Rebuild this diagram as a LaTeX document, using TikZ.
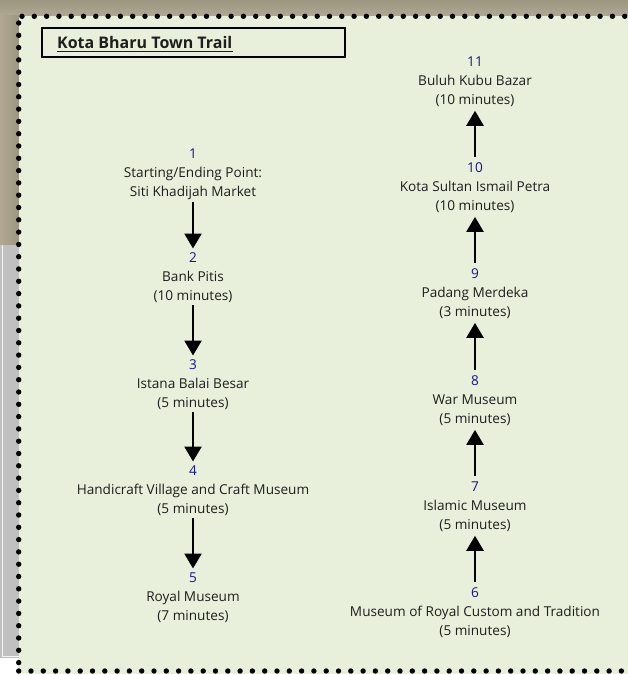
\documentclass[tikz,border=0pt]{standalone}
\usepackage{fontspec}
\setmainfont{Open Sans}
\usetikzlibrary{arrows.meta}
\definecolor{panel}{RGB}{232,240,220}
\definecolor{numblue}{RGB}{22,22,140}
\definecolor{bark}{RGB}{156,149,128}
\definecolor{barklight}{RGB}{176,168,146}
\definecolor{sidegray}{RGB}{192,192,192}
\definecolor{ink}{RGB}{30,30,30}
\newcommand{\num}[1]{{\color{numblue}#1}}
\begin{document}
\begin{tikzpicture}[x=1pt,y=-1pt,
  stop/.style={align=center, inner sep=2pt, anchor=north, text=ink,
    font=\fontsize{13.6}{19}\selectfont},
  walk/.style={line width=2.5pt, shorten >=2pt, -{Triangle[width=17pt,length=15pt]}},
  dots/.style={line width=5.4pt, line cap=round, dash pattern=on 0pt off 12.3pt}]
\useasboundingbox (0,0) rectangle (628,674);

% backdrop around the notice panel
\shade[top color=bark, bottom color=barklight] (0,0) rectangle (628,16);
\shade[left color=barklight, right color=bark] (0,16) rectangle (19,245);
\fill[sidegray] (0,245) rectangle (19,658);
\draw[white!80!sidegray, line width=1pt] (2.5,245) -- (2.5,656.5) -- (19,656.5);
\fill[white] (0,658) rectangle (19,674);

% notice panel with dotted edge
\fill[panel] (19,16) rectangle (628,674);
\draw[dots] (22,16.3) -- (628,16.3);
\draw[dots] (18.7,23) -- (18.7,671);
\draw[dots] (18.7,671) -- (628,671);

% heading
\node[draw, line width=1.8pt, minimum width=303.6pt, minimum height=29pt, inner sep=0]
  (titlebox) at (193.5,42.5) {};
\node[anchor=base west, inner sep=0, text=ink, font=\fontsize{16}{18}\selectfont\bfseries]
  (title) at (57,49) {Kota Bharu Town Trail};
\draw[ink, line width=1.4pt] ([yshift=-2.6pt]title.base west) -- ([yshift=-2.6pt]title.base east);

% outbound column
\node[stop] (s1) at (193,146.5) {\num{1}\\Starting/Ending Point:\\Siti Khadijah Market};
\node[stop] (s2) at (193,250.5) {\num{2}\\Bank Pitis\\(10 minutes)};
\node[stop] (s3) at (193,357.5) {\num{3}\\Istana Balai Besar\\(5 minutes)};
\node[stop] (s4) at (193,463.5) {\num{4}\\Handicraft Village and Craft Museum\\(5 minutes)};
\node[stop] (s5) at (193,570.5) {\num{5}\\Royal Museum\\(7 minutes)};

% return column
\node[stop] (s6) at (475,585.5) {\num{6}\\Museum of Royal Custom and Tradition\\(5 minutes)};
\node[stop] (s7) at (475,479.5) {\num{7}\\Islamic Museum\\(5 minutes)};
\node[stop] (s8) at (475,373.5) {\num{8}\\War Museum\\(5 minutes)};
\node[stop] (s9) at (475,266.5) {\num{9}\\Padang Merdeka\\(3 minutes)};
\node[stop] (s10) at (475,160.5) {\num{10}\\Kota Sultan Ismail Petra\\(10 minutes)};
\node[stop] (s11) at (475,54.5) {\num{11}\\Buluh Kubu Bazar\\(10 minutes)};

% walking legs
\foreach \a/\b in {s1/s2, s2/s3, s3/s4, s4/s5}
  \draw[walk] (\a.south) -- (\b.north);
\foreach \a/\b in {s6/s7, s7/s8, s8/s9, s9/s10, s10/s11}
  \draw[walk] ([yshift=4pt]\a.north) -- (\b.south);
\end{tikzpicture}
\end{document}
